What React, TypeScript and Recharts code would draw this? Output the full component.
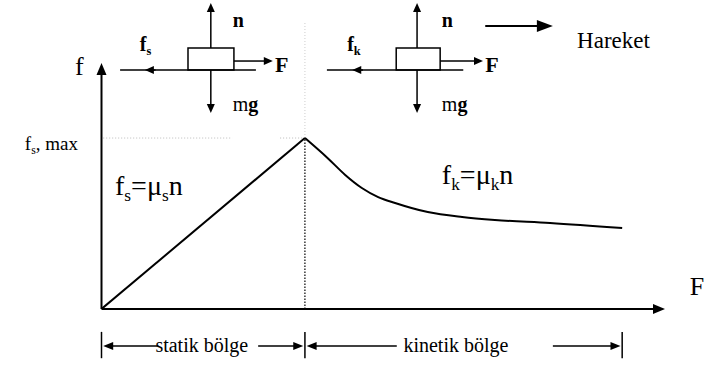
import React from "react";
import {
  ComposedChart,
  Line,
  XAxis,
  YAxis,
  ReferenceLine,
  ReferenceDot,
  ReferenceArea,
} from "recharts";

// ---- data (F = applied force, f = friction force) ----
const staticForce = [0, 36.1];
const staticFriction = [0, 69.5];
const kineticForce = [36.1, 40.2, 43.2, 46.2, 49.1, 52.1, 57.9, 64.0, 69.8, 79.6, 92.4];
const kineticFriction = [69.5, 61.2, 54.6, 49.2, 45.5, 43.1, 39.4, 37.4, 36.2, 35.0, 32.9];
const peakF = 36.1;
const fsMax = 69.5;
const endF = 92.4;

const staticData = staticForce.map((F, i) => ({ F, f: staticFriction[i] }));
const kineticData = kineticForce.map((F, i) => ({ F, f: kineticFriction[i] }));

const FONT = "Liberation Serif";

type Part = { t: string; sub?: boolean; bold?: boolean };

const makeArrow =
  (opts: { head?: boolean; hl?: number; hw?: number; sw?: number; color?: string; dash?: string }) =>
  (p: any) => {
    const { x1, y1, x2, y2 } = p;
    const hl = opts.hl ?? 9;
    const hw = opts.hw ?? 8;
    const sw = opts.sw ?? 1.5;
    const color = opts.color ?? "#000";
    const dx = x2 - x1;
    const dy = y2 - y1;
    const len = Math.hypot(dx, dy) || 1;
    const ux = dx / len;
    const uy = dy / len;
    const bx = opts.head ? x2 - ux * hl : x2;
    const by = opts.head ? y2 - uy * hl : y2;
    return (
      <g>
        <line
          x1={x1}
          y1={y1}
          x2={opts.head ? bx + ux * 1 : x2}
          y2={opts.head ? by + uy * 1 : y2}
          stroke={color}
          strokeWidth={sw}
          strokeDasharray={opts.dash}
        />
        {opts.head && (
          <polygon
            points={`${x2},${y2} ${bx - uy * hw / 2},${by + ux * hw / 2} ${bx + uy * hw / 2},${by - ux * hw / 2}`}
            fill={color}
          />
        )}
      </g>
    );
  };

const makeText =
  (parts: Part[], size: number, anchor: "start" | "middle" = "start", allBold = false) =>
  (p: any) => {
    const { cx, cy } = p;
    const subSize = size * 0.62;
    const shift = size * 0.22;
    const spans: any[] = [];
    let shifted = false;
    parts.forEach((part, i) => {
      let dy = 0;
      if (part.sub && !shifted) {
        dy = shift;
        shifted = true;
      } else if (!part.sub && shifted) {
        dy = -shift;
        shifted = false;
      }
      spans.push(
        <tspan
          key={i}
          dy={dy}
          style={{
            fontSize: part.sub ? subSize : size,
            fontWeight: part.bold || allBold ? "bold" : "normal",
            fontFamily: FONT,
          }}
        >
          {part.t}
        </tspan>
      );
    });
    return (
      <text
        x={cx}
        y={cy}
        textAnchor={anchor}
        fill="#000"
        style={{ fontFamily: FONT, fontSize: size }}
      >
        {spans}
      </text>
    );
  };

type Seg = { a: [number, number]; b: [number, number]; opts: any };

const axisSegs: Seg[] = [
  { a: [0, 0], b: [0, 100], opts: { head: true, hl: 12, hw: 10, sw: 2 } },
  { a: [0, 0], b: [100, 0], opts: { head: true, hl: 12, hw: 10, sw: 2 } },
];

const guideSegs: Seg[] = [
  { a: [0.3, fsMax], b: [23.2, fsMax], opts: { sw: 1, color: "#bbb", dash: "1 2" } },
  { a: [31.7, fsMax], b: [peakF, fsMax], opts: { sw: 1, color: "#bbb", dash: "1 2" } },
  { a: [peakF, fsMax], b: [peakF, 116.3], opts: { sw: 1, color: "#ccc", dash: "1 2" } },
  { a: [peakF, 0], b: [peakF, fsMax], opts: { sw: 1.2, color: "#000", dash: "1.5 1.5" } },
];

const regionSegs: Seg[] = [
  { a: [0, -9.3], b: [0, -20], opts: { sw: 1.5 } },
  { a: [peakF, -9.3], b: [peakF, -20], opts: { sw: 1.5 } },
  { a: [endF, -9.3], b: [endF, -20], opts: { sw: 1.5 } },
  { a: [10.0, -15], b: [0.3, -15], opts: { head: true, sw: 1.5, hl: 10, hw: 8 } },
  { a: [27.8, -15], b: [35.8, -15], opts: { head: true, sw: 1.5, hl: 10, hw: 8 } },
  { a: [52.4, -15], b: [36.4, -15], opts: { head: true, sw: 1.5, hl: 10, hw: 8 } },
  { a: [80.1, -15], b: [92.1, -15], opts: { head: true, sw: 1.5, hl: 10, hw: 8 } },
];

const diagramSegs = (cx: number, left: number, right: number, tip: number, rectR: number, fTip: number): Seg[] => [
  { a: [left, 97.15], b: [right, 97.15], opts: { sw: 1.5 } },
  { a: [tip + 1.9, 97.15], b: [tip, 97.15], opts: { head: true, sw: 1.5, hl: 9, hw: 8 } },
  { a: [cx, 106.1], b: [cx, 124.4], opts: { head: true, sw: 1.5, hl: 9, hw: 8 } },
  { a: [cx, 97.15], b: [cx, 79.7], opts: { head: true, sw: 1.5, hl: 9, hw: 8 } },
  { a: [rectR, 100.8], b: [fTip, 100.8], opts: { head: true, sw: 1.5, hl: 9, hw: 8 } },
];

const topSegs: Seg[] = [
  ...diagramSegs(19.4, 3.3, 27.4, 7.7, 23.5, 30.4),
  ...diagramSegs(56.0, 40.0, 64.2, 44.5, 60.1, 67.7),
  { a: [68.1, 115.0], b: [80.1, 115.0], opts: { head: true, sw: 2, hl: 16, hw: 12 } },
];

const blocks = [
  { x1: 15.35, x2: 23.5 },
  { x1: 52.3, x2: 60.1 },
];

type Lbl = { x: number; y: number; parts: Part[]; size: number; anchor?: "start" | "middle"; bold?: boolean };

const labels: Lbl[] = [
  { x: -4.7, y: 95.1, parts: [{ t: "f" }], size: 26 },
  { x: 104.4, y: 5.5, parts: [{ t: "F" }], size: 26 },
  { x: -13.6, y: 64.6, parts: [{ t: "f" }, { t: "s", sub: true }, { t: ", max" }], size: 19 },
  { x: 2.4, y: 46.3, parts: [{ t: "f" }, { t: "s", sub: true }, { t: "=μ" }, { t: "s", sub: true }, { t: "n" }], size: 28 },
  { x: 60.4, y: 50.8, parts: [{ t: "f" }, { t: "k", sub: true }, { t: "=μ" }, { t: "k", sub: true }, { t: "n" }], size: 28 },
  { x: 84.4, y: 106.1, parts: [{ t: "Hareket" }], size: 23 },
  { x: 17.8, y: -17.5, parts: [{ t: "statik bölge" }], size: 20, anchor: "middle" },
  { x: 62.9, y: -17.5, parts: [{ t: "kinetik bölge" }], size: 20, anchor: "middle" },
  // left free body diagram
  { x: 6.8, y: 104.9, parts: [{ t: "f" }, { t: "s", sub: true }], size: 20, bold: true },
  { x: 23.3, y: 114.8, parts: [{ t: "n" }], size: 20, bold: true },
  { x: 30.8, y: 96.3, parts: [{ t: "F" }], size: 22, bold: true },
  { x: 23.3, y: 80.5, parts: [{ t: "m" }, { t: "g", bold: true }], size: 20 },
  // right free body diagram
  { x: 43.6, y: 104.9, parts: [{ t: "f" }, { t: "k", sub: true }], size: 20, bold: true },
  { x: 60.4, y: 114.8, parts: [{ t: "n" }], size: 20, bold: true },
  { x: 68.1, y: 96.3, parts: [{ t: "F" }], size: 22, bold: true },
  { x: 60.4, y: 80.5, parts: [{ t: "m" }, { t: "g", bold: true }], size: 20 },
];

const renderSegs = (segs: Seg[], prefix: string) =>
  segs.map((s, i) => (
    <ReferenceLine
      key={prefix + i}
      segment={[
        { x: s.a[0], y: s.a[1] },
        { x: s.b[0], y: s.b[1] },
      ]}
      ifOverflow="visible"
      shape={makeArrow(s.opts)}
    />
  ));

export default function App() {
  return (
    <div style={{ position: "absolute", left: 0, top: 0, background: "#fff", fontFamily: FONT }}>
      <ComposedChart
        width={705}
        height={365}
        margin={{ top: 63, right: 40, bottom: 56, left: 101.5 }}
        style={{ fontFamily: FONT }}
      >
        <XAxis dataKey="F" type="number" domain={[0, 100]} hide allowDataOverflow />
        <YAxis type="number" domain={[0, 100]} hide allowDataOverflow />
        {renderSegs(guideSegs, "g")}
        {renderSegs(axisSegs, "a")}
        <Line
          data={staticData}
          dataKey="f"
          type="linear"
          stroke="#000"
          strokeWidth={2}
          dot={false}
          activeDot={false}
          isAnimationActive={false}
        />
        <Line
          data={kineticData}
          dataKey="f"
          type="monotone"
          stroke="#000"
          strokeWidth={2}
          dot={false}
          activeDot={false}
          isAnimationActive={false}
        />
        {renderSegs(regionSegs, "r")}
        {renderSegs(topSegs, "t")}
        {blocks.map((b, i) => (
          <ReferenceArea
            key={"b" + i}
            x1={b.x1}
            x2={b.x2}
            y1={97.15}
            y2={106.1}
            ifOverflow="visible"
            fill="#fff"
            fillOpacity={1}
            stroke="#000"
            strokeWidth={1.5}
          />
        ))}
        {labels.map((l, i) => (
          <ReferenceDot
            key={"l" + i}
            x={l.x}
            y={l.y}
            ifOverflow="visible"
            shape={makeText(l.parts, l.size, l.anchor ?? "start", !!l.bold)}
          />
        ))}
      </ComposedChart>
    </div>
  );
}
